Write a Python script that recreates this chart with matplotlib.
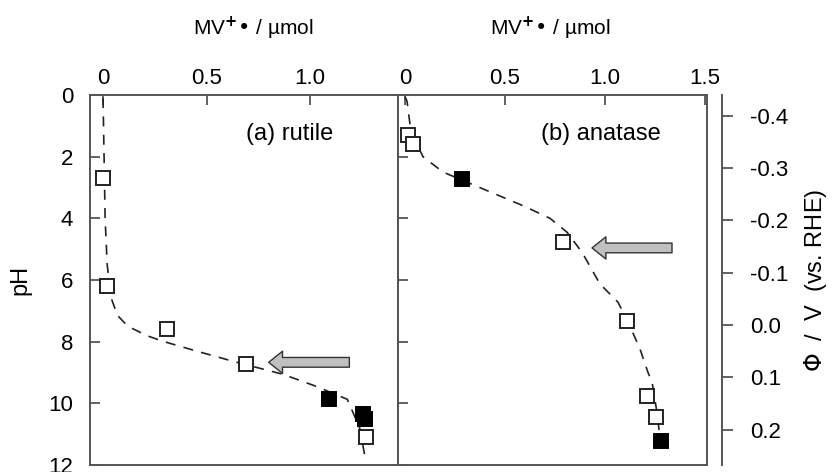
import matplotlib
matplotlib.use('Agg')
import matplotlib.pyplot as plt
from matplotlib.patches import FancyArrowPatch
from matplotlib.ticker import FormatStrFormatter

plt.rcParams['font.family'] = ['Liberation Sans', 'DejaVu Sans']
plt.rcParams['axes.unicode_minus'] = False

# rutile: MV+ radical yield vs pH
rut_open_x = [0.0, 0.02, 0.31, 0.69, 1.27]
rut_open_ph = [2.7, 6.2, 7.6, 8.73, 11.1]
rut_fill_x = [1.09, 1.255, 1.265]
rut_fill_ph = [9.87, 10.35, 10.5]
rut_fit_x = [0.0, 0.005, 0.01, 0.02, 0.04, 0.07, 0.12, 0.21, 0.29, 0.47, 0.63, 0.87, 1.03, 1.18, 1.24, 1.27]
rut_fit_ph = [0.1, 2.0, 4.0, 5.5, 6.6, 7.15, 7.5, 7.8, 7.99, 8.34, 8.64, 9.06, 9.45, 9.87, 10.8, 11.9]

# anatase
ana_open_x = [0.015, 0.04, 0.79, 1.11, 1.21, 1.255]
ana_open_ph = [1.3, 1.58, 4.77, 7.33, 9.76, 10.45]
ana_fill_x = [0.285, 1.28]
ana_fill_ph = [2.72, 11.23]
ana_fit_x = [0.0, 0.01, 0.03, 0.09, 0.19, 0.41, 0.59, 0.725, 0.81, 0.885, 0.975, 1.065, 1.125, 1.175, 1.215, 1.235, 1.26, 1.28]
ana_fit_ph = [0.05, 0.2, 1.2, 2.0, 2.5, 3.1, 3.59, 4.0, 4.45, 5.1, 6.13, 6.72, 7.5, 8.24, 9.0, 9.3, 10.3, 11.4]

# potential scale (V vs RHE) tied to pH
phi_ticks = [-0.4, -0.3, -0.2, -0.1, 0.0, 0.1, 0.2]
phi_slope = 0.059
phi_zero_ph = 7.46

spine_col = '#555555'
fig = plt.figure(figsize=(8.37, 4.72), dpi=100)
ax_a = fig.add_axes([90/837, 7/472, 308/837, 370/472])
ax_b = fig.add_axes([398/837, 7/472, 309/837, 370/472])

mk = dict(marker='s', markersize=10, markeredgewidth=1.4, linestyle='none', zorder=3)

def style(ax, xlim, xticks):
    ax.set_xlim(xlim)
    ax.set_ylim(12, 0)
    ax.xaxis.tick_top()
    ax.set_xticks(xticks)
    ax.set_yticks([0, 2, 4, 6, 8, 10, 12])
    ax.tick_params(direction='in', length=7, width=1.3, color=spine_col, labelsize=16, pad=4)
    for s in ax.spines.values():
        s.set_color(spine_col)
        s.set_linewidth(1.4)

style(ax_a, (-0.063, 1.425), [0, 0.5, 1.0])
ax_a.set_xticklabels(['0', '0.5', '1.0'])
style(ax_b, (-0.035, 1.51), [0, 0.5, 1.0, 1.5])
ax_b.set_xticklabels(['0', '0.5', '1.0', '1.5'])
ax_b.tick_params(labelleft=False)
ax_a.tick_params(axis='y', pad=12)

ax_a.plot(rut_fit_x, rut_fit_ph, color='#222222', lw=1.2, dashes=(6, 5), zorder=2)
ax_a.plot(rut_open_x, rut_open_ph, markerfacecolor='white', markeredgecolor='#222222', **mk)
ax_a.plot(rut_fill_x, rut_fill_ph, markerfacecolor='black', markeredgecolor='black', **mk)

ax_b.plot(ana_fit_x, ana_fit_ph, color='#222222', lw=1.2, dashes=(6, 5), zorder=2)
ax_b.plot(ana_open_x, ana_open_ph, markerfacecolor='white', markeredgecolor='#222222', **mk)
ax_b.plot(ana_fill_x, ana_fill_ph, markerfacecolor='black', markeredgecolor='black', **mk)

ax_a.text(0.9, 1.25, '(a) rutile', fontsize=17, ha='center', va='center')
ax_b.text(0.98, 1.25, '(b) anatase', fontsize=17, ha='center', va='center')

arrow_style = 'simple,head_length=10,head_width=16,tail_width=7'
for ax, x0, x1, y in [(ax_a, 1.19, 0.80, 8.67), (ax_b, 1.335, 0.935, 4.96)]:
    ax.add_patch(FancyArrowPatch((x0, y), (x1, y), arrowstyle=arrow_style,
                                 facecolor='#c0c0c0', edgecolor='#333333',
                                 lw=1.0, shrinkA=0, shrinkB=0, zorder=4))

mv_label = 'MV$^{\\mathbf{+}}$\u2022 / \u00b5mol'
fig.text(253/837, 1 - 28/472, mv_label, fontsize=15, ha='center', va='center')
fig.text(550/837, 1 - 28/472, mv_label, fontsize=15, ha='center', va='center')
ax_a.set_ylabel('pH', fontsize=17, labelpad=12)

# right-hand potential axis
ax_r = ax_b.twinx()
ax_r.set_ylim(phi_slope * (12 - phi_zero_ph), phi_slope * (0 - phi_zero_ph))
ax_r.set_yticks(phi_ticks)
ax_r.yaxis.set_major_formatter(FormatStrFormatter('%.1f'))
for k in ['top', 'bottom', 'left']:
    ax_r.spines[k].set_visible(False)
ax_r.spines['right'].set_position(('outward', 11))
ax_r.spines['right'].set_color(spine_col)
ax_r.spines['right'].set_linewidth(1.4)
ax_r.tick_params(direction='out', length=8, width=1.3, color=spine_col, labelsize=16, pad=12)
ax_r.set_ylabel('$\\mathit{\\Phi}$  /  V  (vs. RHE)', fontsize=17, labelpad=10)

fig.savefig('out.png', dpi=100)
